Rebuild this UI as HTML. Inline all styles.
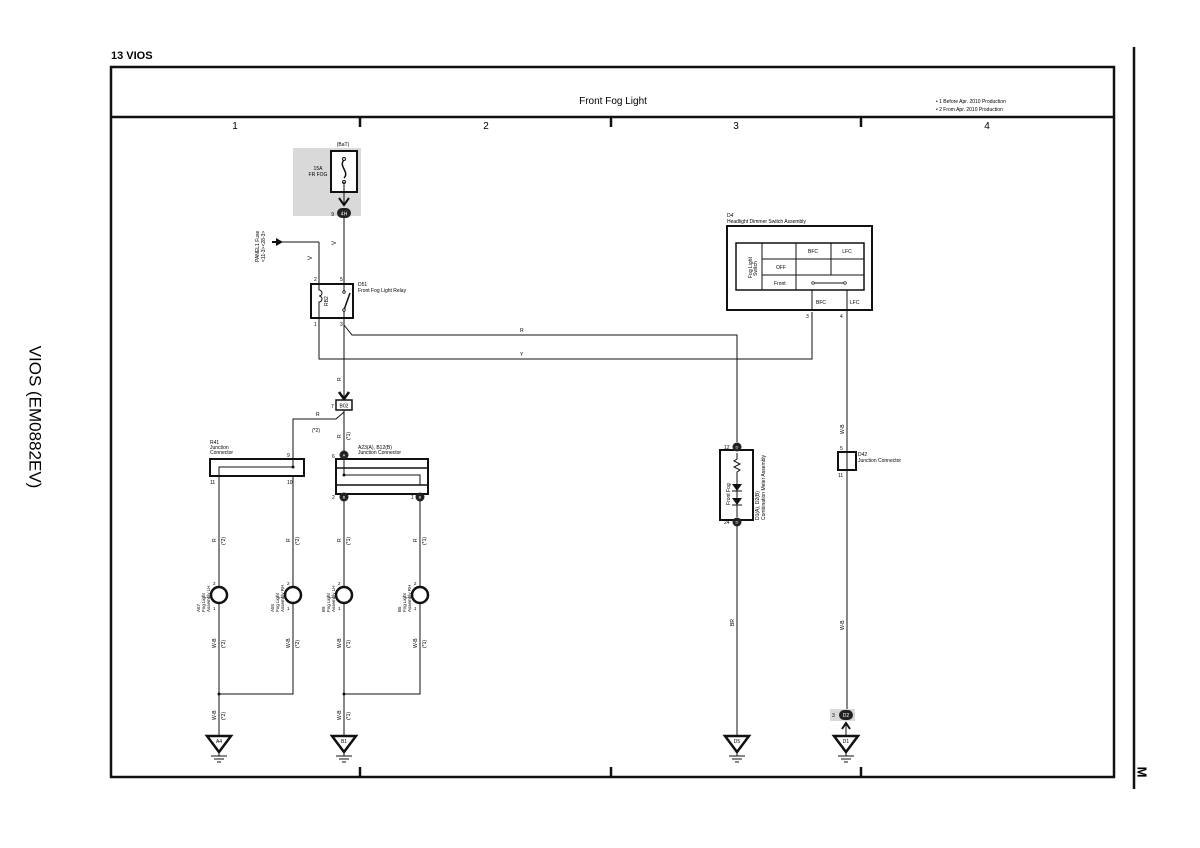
<!DOCTYPE html>
<html><head><meta charset="utf-8"><style>
html,body{margin:0;padding:0;background:#fff;}
svg{display:block;font-family:"Liberation Sans",sans-serif;}
</style></head><body>
<svg width="1200" height="848" viewBox="0 0 1200 848" xmlns="http://www.w3.org/2000/svg">
<rect width="1200" height="848" fill="#fff"/>
<text x="111" y="59" font-size="11" font-weight="bold">13  VIOS</text>
<rect x="111" y="67" width="1003" height="710" fill="none" stroke="#111" stroke-width="2.5"/>
<line x1="111" y1="117" x2="1114" y2="117" stroke="#111" stroke-width="2.5"/>
<g stroke="#111" stroke-width="2.5">
<line x1="360" y1="117" x2="360" y2="127"/><line x1="611" y1="117" x2="611" y2="127"/><line x1="861" y1="117" x2="861" y2="127"/>
<line x1="360" y1="767" x2="360" y2="777"/><line x1="611" y1="767" x2="611" y2="777"/><line x1="861" y1="767" x2="861" y2="777"/>
</g>
<line x1="1134" y1="47" x2="1134" y2="789" stroke="#111" stroke-width="2.5"/>
<text x="1141" y="772" font-size="13" font-weight="bold" transform="rotate(90 1141 772)" text-anchor="middle" dominant-baseline="middle">M</text>
<text x="34" y="417" font-size="17" transform="rotate(90 34 417)" text-anchor="middle" dominant-baseline="middle">VIOS (EM0882EV)</text>
<text x="613" y="104" font-size="10" text-anchor="middle">Front Fog Light</text>
<text x="936" y="103" font-size="5">• 1  Before Apr.  2010 Production</text>
<text x="936" y="111" font-size="5">• 2  From Apr.  2010 Production</text>
<g font-size="10" text-anchor="middle"><text x="235" y="129">1</text><text x="486" y="129">2</text><text x="736" y="129">3</text><text x="987" y="129">4</text></g>

<rect x="293" y="148" width="68" height="68" fill="#d9d9d9"/>
<text x="343" y="146" font-size="5" text-anchor="middle">(BaT)</text>
<text x="318" y="170" font-size="5" text-anchor="middle">15A</text>
<text x="318" y="176" font-size="5" text-anchor="middle">FR FOG</text>
<rect x="331" y="151" width="26" height="41" fill="#fff" stroke="#111" stroke-width="2"/>
<path d="M344 160 C338 166 350 172 344 178 " fill="none" stroke="#111" stroke-width="1.5"/>
<circle cx="344" cy="159" r="1.5" fill="#fff" stroke="#111"/><circle cx="344" cy="182" r="1.5" fill="#fff" stroke="#111"/>
<g stroke="#111" stroke-width="1" fill="none">
<line x1="344" y1="182" x2="344" y2="206"/>
<line x1="344" y1="218" x2="344" y2="283"/>
<line x1="282" y1="242" x2="319" y2="242"/><line x1="319" y1="242" x2="319" y2="283"/>
<line x1="344" y1="318" x2="344" y2="400"/>
<polyline points="344,325 352,335 737,335 737,442"/>
<polyline points="319,318 319,359 812,359 812,312"/>
<line x1="344" y1="410" x2="344" y2="452"/>
<polyline points="344,412 336,419 293,419 293,694 219,694 219,735"/>
<polyline points="293,467 219,467 219,587"/>
<line x1="344" y1="497" x2="344" y2="735"/>
<polyline points="344,475 420,475 420,587"/>
<polyline points="420,604 420,694 344,694"/>
<line x1="219" y1="604" x2="219" y2="694"/>
<line x1="737" y1="526" x2="737" y2="735"/>
<line x1="847" y1="310" x2="847" y2="452"/>
<line x1="847" y1="470" x2="847" y2="710"/>
</g>
<path d="M339 198 l5 7 l5 -7" fill="none" stroke="#111" stroke-width="2"/>
<rect x="337" y="208" width="14" height="10" rx="5" fill="#222"/>
<text x="344" y="215.5" font-size="5" fill="#fff" text-anchor="middle">4H</text>
<text x="334" y="216" font-size="5" text-anchor="end">9</text>
<text x="336" y="245" font-size="6" transform="rotate(-90 336 245)">V</text>
<text x="312" y="260" font-size="6" transform="rotate(-90 312 260)">V</text>
<path d="M276 238 l7 4 l-7 4 z" fill="#111"/><line x1="272" y1="242" x2="278" y2="242" stroke="#111" stroke-width="2"/>
<text x="259" y="262" font-size="5" transform="rotate(-90 259 262)">PANEL1 Fuse</text>
<text x="265" y="262" font-size="5" transform="rotate(-90 265 262)">&lt;11-3&gt;&lt;28-3&gt;</text>
<rect x="311" y="284" width="42" height="34" fill="#fff" stroke="#111" stroke-width="2"/>
<path d="M319 284 v6 a3 3 0 0 1 0 6 a3 3 0 0 1 0 6 v16" fill="none" stroke="#111"/>
<line x1="344" y1="284" x2="344" y2="292" stroke="#111"/><line x1="344" y1="310" x2="344" y2="318" stroke="#111"/>
<line x1="344" y1="310" x2="350" y2="293" stroke="#111" stroke-width="1.5"/>
<circle cx="344" cy="292" r="1.3" fill="#fff" stroke="#111" stroke-width=".8"/><circle cx="344" cy="310" r="1.3" fill="#fff" stroke="#111" stroke-width=".8"/>
<g font-size="5"><text x="314" y="281">2</text><text x="340" y="281">5</text><text x="314" y="326">1</text><text x="340" y="326">3</text>
<text x="358" y="286">D51</text><text x="358" y="292">Front Fog Light Relay</text></g>
<text x="328" y="306" font-size="5" transform="rotate(-90 328 306)">RB2</text>
<text x="520" y="332" font-size="5">R</text><text x="520" y="356" font-size="5">Y</text>
<text x="341" y="381" font-size="5" transform="rotate(-90 341 381)">R</text>
<path d="M339 392 l5 7 l5 -7" fill="none" stroke="#111" stroke-width="2.5"/>
<rect x="336" y="400" width="16" height="10" fill="#fff" stroke="#111" stroke-width="1.5"/>
<text x="344" y="407.5" font-size="5" text-anchor="middle">B02</text>
<text x="331" y="408" font-size="5">7</text>
<text x="316" y="416" font-size="5">R</text><text x="312" y="432" font-size="5">(*2)</text>
<text x="341" y="438" font-size="5" transform="rotate(-90 341 438)">R</text>
<text x="350" y="440" font-size="5" transform="rotate(-90 350 440)">(*1)</text>
<rect x="210" y="459" width="94" height="17" fill="#fff" stroke="#111" stroke-width="2"/>
<polyline points="293,452 293,467 219,467 219,476" fill="none" stroke="#111"/>
<circle cx="293" cy="467" r="1.5" fill="#111"/>
<g font-size="5"><text x="210" y="444">R41</text><text x="210" y="449">Junction</text><text x="210" y="454">Connector</text>
<text x="287" y="457">9</text><text x="210" y="484">11</text><text x="287" y="484">10</text></g>
<rect x="336" y="459" width="92" height="35" fill="#fff" stroke="#111" stroke-width="2"/>
<line x1="336" y1="468" x2="428" y2="468" stroke="#111" stroke-width="1.5"/><line x1="336" y1="485" x2="428" y2="485" stroke="#111" stroke-width="1.5"/>
<polyline points="344,459 344,475 420,475 420,485" fill="none" stroke="#111"/>
<circle cx="344" cy="475" r="1.5" fill="#111"/>
<g font-size="5"><text x="358" y="449">A23(A), B12(B)</text><text x="358" y="454">Junction Connector</text>
<text x="332" y="458">6</text><text x="332" y="499">2</text><text x="411" y="499">1</text></g>
<g fill="#222"><circle cx="344" cy="455" r="4.5"/><circle cx="344" cy="497" r="4.5"/><circle cx="420" cy="497" r="4.5"/></g>
<g font-size="4" fill="#fff" text-anchor="middle"><text x="344" y="456.5">A</text><text x="344" y="498.5">B</text><text x="420" y="498.5">B</text></g>
<g font-size="5">
<text x="216" y="542" transform="rotate(-90 216 542)">R</text><text x="225" y="545" transform="rotate(-90 225 545)">(*2)</text>
<text x="290" y="542" transform="rotate(-90 290 542)">R</text><text x="299" y="545" transform="rotate(-90 299 545)">(*2)</text>
<text x="341" y="542" transform="rotate(-90 341 542)">R</text><text x="350" y="545" transform="rotate(-90 350 545)">(*1)</text>
<text x="417" y="542" transform="rotate(-90 417 542)">R</text><text x="426" y="545" transform="rotate(-90 426 545)">(*1)</text>
<text x="216" y="648" transform="rotate(-90 216 648)">W-B</text><text x="225" y="648" transform="rotate(-90 225 648)">(*2)</text>
<text x="290" y="648" transform="rotate(-90 290 648)">W-B</text><text x="299" y="648" transform="rotate(-90 299 648)">(*2)</text>
<text x="341" y="648" transform="rotate(-90 341 648)">W-B</text><text x="350" y="648" transform="rotate(-90 350 648)">(*1)</text>
<text x="417" y="648" transform="rotate(-90 417 648)">W-B</text><text x="426" y="648" transform="rotate(-90 426 648)">(*1)</text>
<text x="216" y="720" transform="rotate(-90 216 720)">W-B</text><text x="225" y="720" transform="rotate(-90 225 720)">(*2)</text>
<text x="341" y="720" transform="rotate(-90 341 720)">W-B</text><text x="350" y="720" transform="rotate(-90 350 720)">(*1)</text>
<text x="734" y="626" transform="rotate(-90 734 626)">BR</text>
<text x="844" y="630" transform="rotate(-90 844 630)">W-B</text>
<text x="844" y="434" transform="rotate(-90 844 434)">W-B</text>
</g>
<g fill="#fff" stroke="#111" stroke-width="2.5">
<circle cx="219" cy="595" r="8"/><circle cx="293" cy="595" r="8"/><circle cx="344" cy="595" r="8"/><circle cx="420" cy="595" r="8"/>
</g>
<g font-size="4.5">
<text x="213" y="585">2</text><text x="213" y="610">1</text>
<text x="287" y="585">2</text><text x="287" y="610">1</text>
<text x="338" y="585">2</text><text x="338" y="610">1</text>
<text x="414" y="585">2</text><text x="414" y="610">1</text>
</g>
<g font-size="4.5">
<text x="200" y="612" transform="rotate(-90 200 612)">A57</text><text x="205" y="612" transform="rotate(-90 205 612)">Fog Light</text><text x="210" y="612" transform="rotate(-90 210 612)">Assembly  LH</text>
<text x="274" y="612" transform="rotate(-90 274 612)">A55</text><text x="279" y="612" transform="rotate(-90 279 612)">Fog Light</text><text x="284" y="612" transform="rotate(-90 284 612)">Assembly  RH</text>
<text x="325" y="612" transform="rotate(-90 325 612)">B9</text><text x="330" y="612" transform="rotate(-90 330 612)">Fog Light</text><text x="335" y="612" transform="rotate(-90 335 612)">Assembly  LH</text>
<text x="401" y="612" transform="rotate(-90 401 612)">B5</text><text x="406" y="612" transform="rotate(-90 406 612)">Fog Light</text><text x="411" y="612" transform="rotate(-90 411 612)">Assembly  RH</text>
</g>
<circle cx="219" cy="694" r="1.5" fill="#111"/><circle cx="344" cy="694" r="1.5" fill="#111"/>
<text x="727" y="217" font-size="5">D4</text>
<text x="727" y="223" font-size="5">Headlight Dimmer Switch Assembly</text>
<rect x="727" y="226" width="145" height="84" fill="#fff" stroke="#111" stroke-width="2"/>
<rect x="736" y="243" width="128" height="47" fill="none" stroke="#111" stroke-width="1.5"/>
<g stroke="#111" stroke-width="1"><line x1="762" y1="243" x2="762" y2="290"/><line x1="796" y1="243" x2="796" y2="290"/><line x1="831" y1="243" x2="831" y2="275"/>
<line x1="762" y1="259" x2="864" y2="259"/><line x1="762" y1="275" x2="864" y2="275"/>
<line x1="813" y1="283" x2="845" y2="283"/>
<line x1="812" y1="290" x2="812" y2="310"/><line x1="847" y1="290" x2="847" y2="310"/></g>
<circle cx="813" cy="283" r="1.3" fill="#fff" stroke="#111" stroke-width=".7"/><circle cx="845" cy="283" r="1.3" fill="#fff" stroke="#111" stroke-width=".7"/>
<g font-size="5"><text x="813" y="253" text-anchor="middle">BFC</text><text x="847" y="253" text-anchor="middle">LFC</text>
<text x="776" y="269">OFF</text><text x="774" y="285">Front</text>
<text x="816" y="304">BFC</text><text x="850" y="304">LFC</text>
<text x="806" y="318">3</text><text x="840" y="318">4</text>
<text x="752" y="278" transform="rotate(-90 752 278)">Fog Light</text><text x="757" y="276" transform="rotate(-90 757 276)">Switch</text></g>
<rect x="720" y="450" width="33" height="70" fill="#fff" stroke="#111" stroke-width="2"/>
<path d="M737 453 v6 l-3 2 l6 3 l-6 3 l6 3 l-3 2 v4" fill="none" stroke="#111"/>
<path d="M732 484 h10 l-5 7 z" fill="#111"/><line x1="732" y1="491" x2="742" y2="491" stroke="#111"/>
<path d="M732 498 h10 l-5 7 z" fill="#111"/><line x1="732" y1="505" x2="742" y2="505" stroke="#111"/>
<line x1="737" y1="476" x2="737" y2="517" stroke="#111"/>
<g fill="#222"><circle cx="737" cy="447" r="4.5"/><circle cx="737" cy="522" r="4.5"/></g>
<g font-size="4" fill="#fff" text-anchor="middle"><text x="737" y="448.5">D</text><text x="737" y="523.5">D</text></g>
<g font-size="5"><text x="724" y="449">12</text><text x="724" y="524">24</text>
<text x="730" y="505" transform="rotate(-90 730 505)">Front Fog</text>
<text x="759" y="520" transform="rotate(-90 759 520)">D1(A), D2(B)</text>
<text x="765" y="520" transform="rotate(-90 765 520)">Combination Meter Assembly</text></g>
<rect x="838" y="452" width="18" height="18" fill="#fff" stroke="#111" stroke-width="2"/>
<line x1="847" y1="452" x2="847" y2="470" stroke="#111"/>
<g font-size="5"><text x="858" y="456">D42</text><text x="858" y="462">Junction Connector</text><text x="840" y="450">5</text><text x="838" y="477">11</text></g>
<rect x="830" y="709" width="25" height="12" fill="#d9d9d9"/>
<rect x="839" y="710" width="14" height="10" rx="5" fill="#222"/>
<text x="846" y="717" font-size="5" fill="#fff" text-anchor="middle">D2</text>
<text x="832" y="717" font-size="5">3</text>
<path d="M842 729 l4 -6 l4 6" fill="none" stroke="#111" stroke-width="2"/>
<line x1="846" y1="723" x2="846" y2="735" stroke="#111"/>
<g stroke="#111" fill="#fff">
<path d="M207 736 h24 l-12 16 z" stroke-width="2.5"/><line x1="219" y1="752" x2="219" y2="756"/><line x1="211" y1="756" x2="227" y2="756"/><line x1="214" y1="759" x2="224" y2="759"/><line x1="217" y1="762" x2="221" y2="762"/>
<path d="M332 736 h24 l-12 16 z" stroke-width="2.5"/><line x1="344" y1="752" x2="344" y2="756"/><line x1="336" y1="756" x2="352" y2="756"/><line x1="339" y1="759" x2="349" y2="759"/><line x1="342" y1="762" x2="346" y2="762"/>
<path d="M725 736 h24 l-12 16 z" stroke-width="2.5"/><line x1="737" y1="752" x2="737" y2="756"/><line x1="729" y1="756" x2="745" y2="756"/><line x1="732" y1="759" x2="742" y2="759"/><line x1="735" y1="762" x2="739" y2="762"/>
<path d="M834 736 h24 l-12 16 z" stroke-width="2.5"/><line x1="846" y1="752" x2="846" y2="756"/><line x1="838" y1="756" x2="854" y2="756"/><line x1="841" y1="759" x2="851" y2="759"/><line x1="844" y1="762" x2="848" y2="762"/>
</g>
<g font-size="5" text-anchor="middle"><text x="219" y="743">A4</text><text x="344" y="743">B1</text><text x="737" y="743">D5</text><text x="846" y="743">D1</text></g>
</svg>
</body></html>
